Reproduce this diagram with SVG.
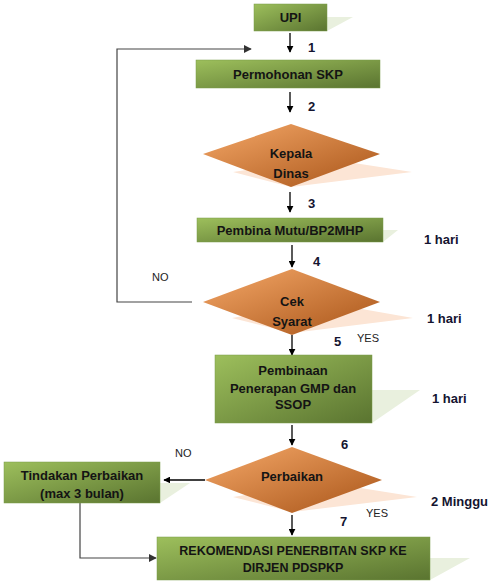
<svg xmlns="http://www.w3.org/2000/svg" width="496" height="588" viewBox="0 0 496 588">
<defs>
<linearGradient id="gGreen" x1="0" y1="0" x2="1" y2="1">
<stop offset="0" stop-color="#9dbf5c"/>
<stop offset="1" stop-color="#5a7430"/>
</linearGradient>
<linearGradient id="gOrange" x1="0" y1="0" x2="1" y2="1">
<stop offset="0" stop-color="#f5a868"/>
<stop offset="1" stop-color="#a85418"/>
</linearGradient>
<marker id="ah" viewBox="0 0 10 10" refX="9" refY="5" markerWidth="7" markerHeight="7" markerUnits="userSpaceOnUse" orient="auto">
<path d="M0,0 L10,5 L0,10 z" fill="#000"/>
</marker>
<marker id="ah2" viewBox="0 0 10 10" refX="9" refY="5" markerWidth="8" markerHeight="8" markerUnits="userSpaceOnUse" orient="auto">
<path d="M0,0 L10,5 L0,10 z" fill="#333"/>
</marker>
</defs>
<style>
.box{fill:url(#gGreen);stroke:#7a9a48;stroke-width:0.5}
.dia{fill:url(#gOrange)}
.gs{fill:#e9f0de}
.os{fill:#fce5d5}
.t{font-family:"Liberation Sans",Arial,sans-serif;font-weight:bold;font-size:13px;fill:#141414;text-anchor:middle}
.s{font-size:12.5px}
.n{font-family:"Liberation Sans",Arial,sans-serif;font-weight:bold;font-size:13px;fill:#141430}
.l{font-family:"Liberation Sans",Arial,sans-serif;font-size:11px;fill:#222}
.c{stroke:#000;stroke-width:1.3;fill:none}
.c2{stroke:#444;stroke-width:1.2;fill:none}
</style>

<g id="connectors">
<line class="c" x1="290" y1="33" x2="290" y2="52" marker-end="url(#ah)"/>
<line class="c" x1="290" y1="92" x2="290" y2="112" marker-end="url(#ah)"/>
<line class="c" x1="290" y1="192" x2="290" y2="212" marker-end="url(#ah)"/>
<line class="c" x1="292" y1="245" x2="292" y2="267" marker-end="url(#ah)"/>
<line class="c" x1="292" y1="335" x2="292" y2="355" marker-end="url(#ah)"/>
<line class="c" x1="292" y1="425" x2="292" y2="445" marker-end="url(#ah)"/>
<line class="c" x1="292" y1="515" x2="292" y2="535" marker-end="url(#ah)"/>
<line class="c" x1="205" y1="480" x2="164" y2="480" marker-end="url(#ah)"/>
<polyline class="c2" points="192,302 117,302 117,49 251,49" marker-end="url(#ah2)"/>
<polyline class="c2" points="80,503 80,558 156,558" marker-end="url(#ah2)"/>
</g>

<g id="upi">
<polygon class="gs" points="254,31 327,31 353,17 280,17"/>
<rect class="box" x="254" y="4" width="73" height="27"/>
<text class="t" x="290.5" y="22">UPI</text>
</g>

<g id="permohonan">
<rect class="box" x="196" y="60" width="184" height="28"/>
<text class="t" x="288" y="79">Permohonan SKP</text>
</g>

<g id="kepala-dinas">
<polygon class="os" points="233,172 322,158 412,172 291,187"/>
<polygon class="dia" points="291,124 380,154 291,187 203,154"/>
<text class="t" x="291" y="158">Kepala</text>
<text class="t" x="291" y="178">Dinas</text>
</g>

<g id="pembina-mutu">
<polygon class="gs" points="197,242 383,242 398,230 212,230"/>
<rect class="box" x="197" y="218" width="186" height="24"/>
<text class="t" x="290" y="235">Pembina Mutu/BP2MHP</text>
</g>

<g id="cek-syarat">
<polygon class="os" points="232,318 322,302 413,318 292,333"/>
<polygon class="dia" points="292,269 380,302 292,335 203,302"/>
<text class="t" x="292" y="306">Cek</text>
<text class="t" x="292" y="326">Syarat</text>
</g>

<g id="pembinaan">
<polygon class="gs" points="215,423 372,423 420,390 263,390"/>
<rect class="box" x="215" y="355" width="157" height="68"/>
<text class="t" x="293" y="375">Pembinaan</text>
<text class="t" x="293" y="393">Penerapan GMP dan</text>
<text class="t" x="293" y="409">SSOP</text>
</g>

<g id="perbaikan">
<polygon class="os" points="233,497 323,482 417,497 292,512"/>
<polygon class="dia" points="292,447 382,480 292,513 205,480"/>
<text class="t" x="292" y="481">Perbaikan</text>
</g>

<g id="tindakan">
<polygon class="gs" points="4,503 160,503 190,483 34,483"/>
<rect class="box" x="4" y="462" width="156" height="41"/>
<text class="t" x="82" y="480">Tindakan Perbaikan</text>
<text class="t" x="82" y="498">(max 3 bulan)</text>
</g>

<g id="rekomendasi">
<polygon class="gs" points="157,580 430,580 470,558 197,558"/>
<rect class="box" x="157" y="537" width="273" height="43"/>
<text class="t s" x="293" y="555">REKOMENDASI PENERBITAN SKP KE</text>
<text class="t s" x="293" y="572">DIRJEN PDSPKP</text>
</g>

<g id="labels">
<text class="n" x="308" y="52">1</text>
<text class="n" x="308" y="111">2</text>
<text class="n" x="308" y="208">3</text>
<text class="n" x="313" y="266">4</text>
<text class="n" x="334" y="346">5</text>
<text class="n" x="341" y="449">6</text>
<text class="n" x="340" y="526">7</text>
<text class="l" x="152" y="281">NO</text>
<text class="l" x="357" y="342">YES</text>
<text class="l" x="175" y="457">NO</text>
<text class="l" x="366" y="517">YES</text>
<text class="n" x="424" y="244">1 hari</text>
<text class="n" x="427" y="323">1 hari</text>
<text class="n" x="432" y="403">1 hari</text>
<text class="n" x="431" y="506">2 Minggu</text>
</g>
</svg>
